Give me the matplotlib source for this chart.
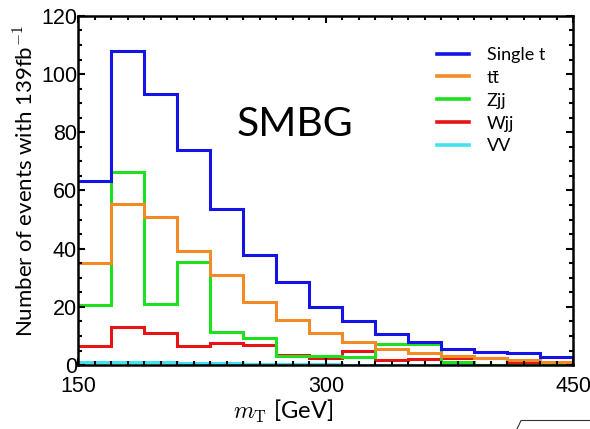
import numpy as np
import matplotlib.pyplot as plt
from matplotlib.lines import Line2D
from matplotlib.ticker import MultipleLocator

# bin edges of transverse mass, 20 GeV wide
edges = np.arange(150, 451, 20)

single_t = [63.2, 108.0, 93.1, 73.8, 53.8, 37.7, 28.4, 20.0, 15.1, 10.7, 7.8, 5.6, 4.4, 4.0, 2.8]
ttbar = [35.1, 55.2, 50.9, 39.1, 30.8, 21.6, 15.5, 10.9, 7.8, 5.6, 4.3, 3.1, 2.3, 1.6, 1.1]
zjj = [20.7, 66.4, 21.0, 35.4, 11.5, 9.3, 3.2, 3.0, 2.9, 7.2, 7.2, 0.9, 0.0, 0.0, 0.0]
wjj = [6.5, 13.0, 10.9, 6.6, 7.5, 6.8, 3.5, 2.3, 4.7, 1.7, 2.0, 2.6, 2.6, 0.9, 0.3]
vv = [0.9, 1.0, 0.9, 0.8, 0.7, 0.4, 0.3, 0.2, 0.1, 0.1, 0.1, 0.1, 0.0, 0.0, 0.0]

names = ['Single t', 'tt\u0304', 'Zjj', 'Wjj', 'VV']
colors = ['#1414e6', '#f28a26', '#1fe01f', '#e61414', '#3fe3ef']
values = [single_t, ttbar, zjj, wjj, vv]

plt.rcParams['font.family'] = ['Liberation Sans', 'DejaVu Sans']
plt.rcParams['mathtext.fontset'] = 'cm'
txt_font = ['Lato', 'DejaVu Sans']

fig = plt.figure(figsize=(5.9, 4.29), dpi=100)
ax = fig.add_axes([0.133, 0.149, 0.839, 0.814])

# draw in reverse so Single t sits on top
for vals, col in zip(reversed(values), reversed(colors)):
    ax.stairs(vals, edges, color=col, linewidth=2.2, baseline=None)

handles = [Line2D([], [], color=c, linewidth=2.6) for c in colors]
leg = ax.legend(handles, names, loc='upper left', bbox_to_anchor=(0.724, 0.911),
                frameon=False, prop={'family': txt_font, 'size': 13},
                handlelength=1.8, handletextpad=0.95, labelspacing=0.38,
                borderpad=0, borderaxespad=0)

ax.text(281, 82.5, 'SMBG', fontsize=29.5, ha='center', va='center', family=txt_font)

ax.set_xlim(150, 450)
ax.set_ylim(0, 120)
ax.set_xticks([150, 300, 450])
ax.xaxis.set_minor_locator(MultipleLocator(10))
ax.yaxis.set_major_locator(MultipleLocator(20))
ax.yaxis.set_minor_locator(MultipleLocator(5))
ax.tick_params(which='both', direction='in', top=True, right=True, width=1.5)
ax.tick_params(which='major', length=5, labelsize=15.5)
ax.tick_params(which='minor', length=3)
ax.tick_params(axis='x', pad=8)
ax.tick_params(axis='y', pad=1)
for s in ax.spines.values():
    s.set_linewidth(1.8)

ax.set_ylabel('Number of events with 139fb$^{-1}$', fontsize=16, family=txt_font)
ax.yaxis.set_label_coords(-0.108, 0.527)
ax.set_xlabel(r'$m_{\mathrm{T}}$ [GeV]', fontsize=17, family=txt_font)
ax.xaxis.set_label_coords(0.413, -0.132)
ax.xaxis.label.set_va('center')
ax.yaxis.label.set_va('center')

# corner of a box at the lower right
fig.add_artist(Line2D([517 / 590, 521 / 590, 1.0], [0.0, 8.5 / 429, 8.5 / 429],
                      color='#333333', linewidth=0.8, transform=fig.transFigure))

fig.savefig('out.png', dpi=100)
